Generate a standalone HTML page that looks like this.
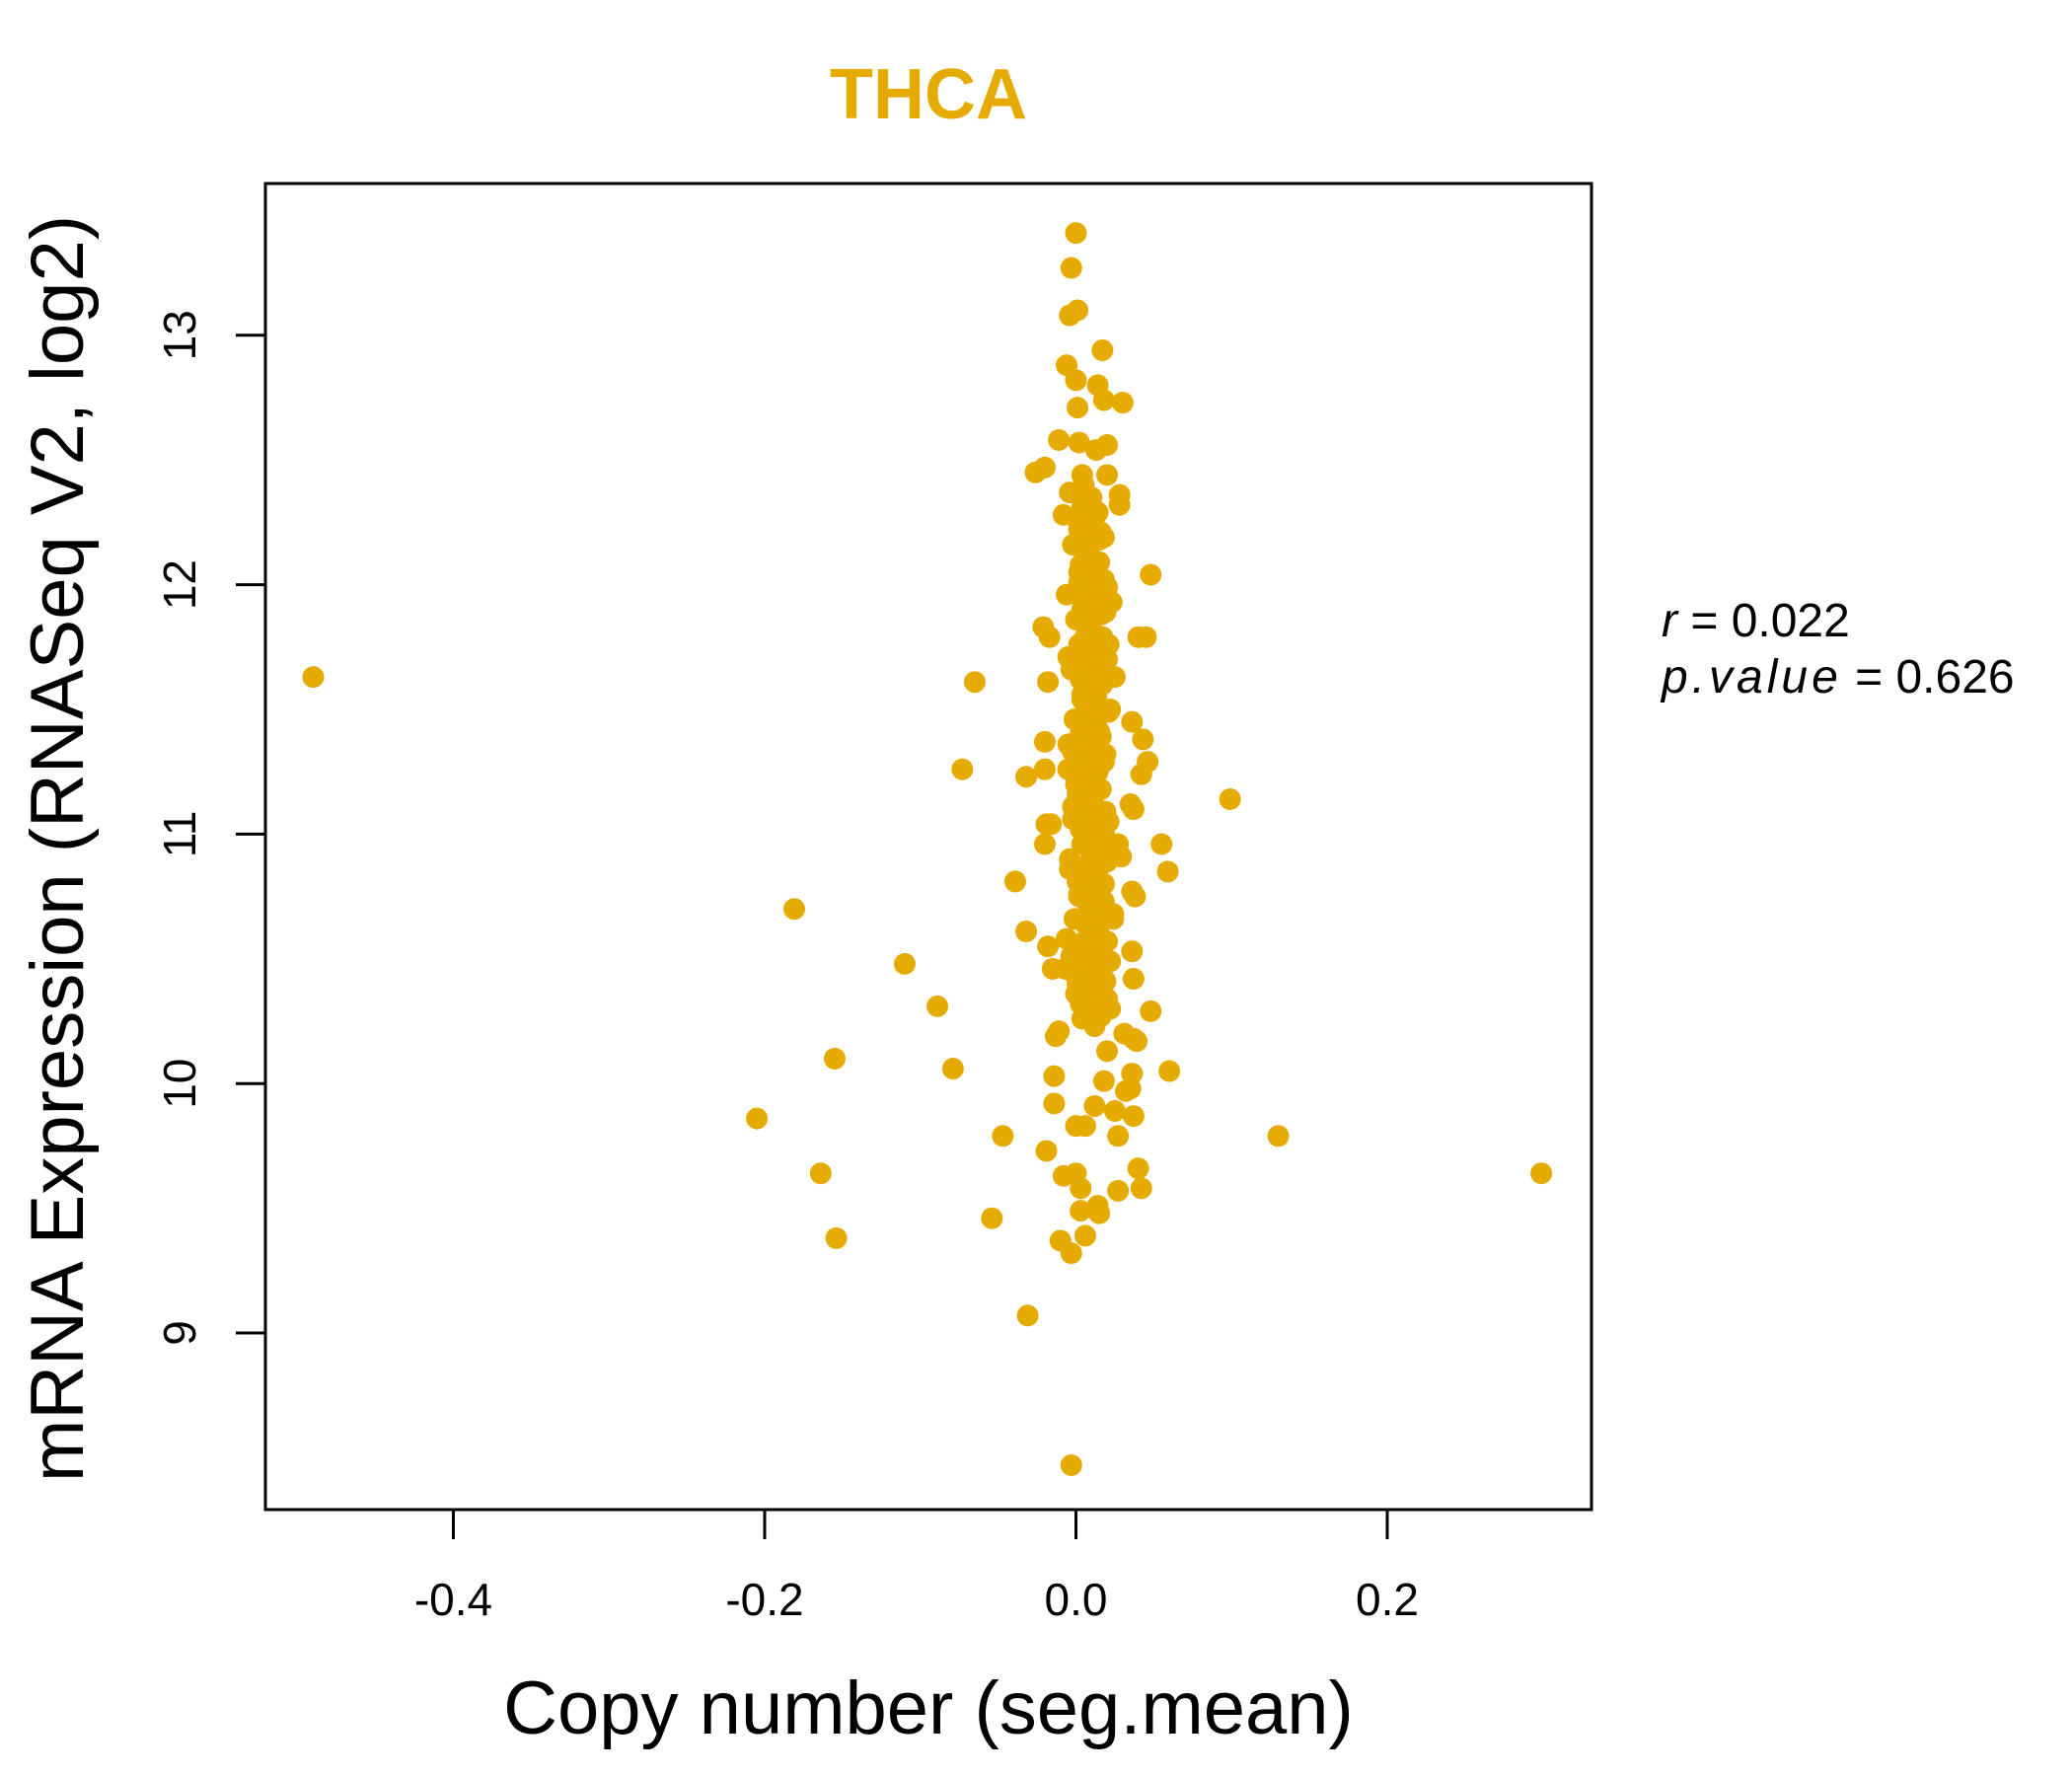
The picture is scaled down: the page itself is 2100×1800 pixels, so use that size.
<!DOCTYPE html>
<html><head><meta charset="utf-8">
<style>html,body{margin:0;padding:0;background:#fff;}svg{display:block;}</style>
</head><body>
<svg id="chart" width="2100" height="1800" viewBox="0 0 2100 1800" xmlns="http://www.w3.org/2000/svg" font-family="'Liberation Sans', sans-serif">
<rect x="0" y="0" width="2100" height="1800" fill="#fff"/>
<text x="941" y="120" font-size="72" font-weight="bold" fill="#E5AB00" text-anchor="middle">THCA</text>
<rect x="269" y="186" width="1344" height="1344" fill="none" stroke="#000" stroke-width="3"/>
<g id="xaxis"></g>
<g id="yaxis"></g>
<g id="points"></g>
<text x="941" y="1757" font-size="76" text-anchor="middle">Copy number (seg.mean)</text>
<text transform="translate(84,860) rotate(-90)" font-size="76" text-anchor="middle">mRNA Expression (RNASeq V2, log2)</text>
<text x="1684" y="645" font-size="48"><tspan font-style="italic">r</tspan> = 0.022</text>
<text x="1684" y="702" font-size="48"><tspan font-style="italic" letter-spacing="4">p.value</tspan> = 0.626</text>
</svg>
<script>
const xTicks = [-0.4, -0.2, 0.0, 0.2];
const xTickLabels = ["-0.4", "-0.2", "0.0", "0.2"];
const yTicks = [9, 10, 11, 12, 13];
const yTickLabels = ["9", "10", "11", "12", "13"];
const copyNumber = [
-0.49,-0.065,-0.073,-0.032,-0.039,-0.032,-0.181,-0.110,-0.089,-0.155,-0.079,-0.205,-0.164,-0.154,-0.054,-0.047,-0.031,-0.003,
0.099,0.130,0.299,0.060,0.059,0.055,0.048,0.048,0.045,0.040,0.042,0.040,0.037,
0.036,0.037,0.036,0.035,0.039,0.037,0.046,0.043,0.042,0.035,0.037,0.038,0.036,0.036,
0.000,-0.003,0.001,-0.004,0.017,-0.006,0.030,0.014,0.000,0.001,0.018,-0.011,0.002,0.020,0.013,
-0.026,-0.020,0.004,0.020,0.028,0.028,-0.021,-0.017,-0.018,-0.020,-0.020,-0.019,-0.016,-0.020,
-0.018,-0.015,-0.013,-0.014,-0.014,-0.011,-0.008,-0.010,-0.003,0.006,0.000,0.003,0.003,0.015,0.014,0.006,0.000,
0.025,0.027,0.027,0.032,0.018,0.020,0.031,0.024,0.020,0.029,0.027,0.012,-0.019,0.016,
0.005,0.010,0.012,0.008,0.003,0.015,0.007,0.011,0.002,0.018,0.009,0.013,0.006,0.004,0.016,0.010,
0.008,0.012,0.005,0.014,0.001,0.020,0.011,0.007,0.003,0.017,0.009,0.013,0.006,0.022,0.010,0.004,
0.012,0.008,0.015,0.002,0.019,0.011,0.006,0.014,0.009,0.000,0.016,0.010,0.005,0.013,0.008,0.021,
0.003,0.011,0.007,0.017,0.012,-0.004,0.009,0.014,0.006,0.018,0.010,0.002,0.013,0.008,0.024,0.005,
0.011,0.015,-0.006,0.009,0.012,0.004,0.019,0.007,0.014,0.001,0.010,0.016,0.003,0.022,0.008,0.012,
-0.008,0.006,0.017,0.011,0.009,0.025,0.004,0.013,-0.002,0.015,0.007,0.020,0.010,0.005,0.018,0.012,
0.002,0.023,0.008,0.014,-0.005,0.011,0.016,0.006,0.021,0.009,0.013,0.003,0.019,0.010,0.007,0.015,
-0.004,0.006,0.014,0.001,0.010,0.018,-0.002,0.008,0.015,0.003,0.012,0.020,-0.006,0.005,0.013,0.000,
0.009,0.017,0.002,0.011,0.019,-0.003,0.007,0.014,0.004,0.012,0.021,-0.001,0.008,0.016,0.003,0.010,
0.018,-0.005,0.006,0.013,0.001,0.011,0.019,-0.002,0.009,0.015,0.004,0.012,0.020,-0.004,0.007,0.014,
0.002,0.010,0.017,-0.001,0.008,0.015,0.003,0.011,0.022,-0.007,0.005,0.013,0.000,0.009,0.016,0.004,
0.012,0.019,-0.003,0.006,0.014,0.001,0.010,0.018,-0.002,0.008,0.015,0.003,0.011,0.017,-0.005,0.007,
0.013,0.002,0.009,0.016,0.004,0.012,0.020,-0.001,0.006,0.014
];
const expression = [
11.63,11.61,11.26,11.23,10.81,10.61,10.70,10.48,10.31,10.10,10.06,9.86,9.64,9.38,9.46,9.79,9.07,8.47,
11.14,9.79,9.64,10.05,10.85,10.96,10.29,12.04,11.79,11.79,9.58,9.66,9.87,
10.53,10.42,10.04,9.98,10.17,10.18,11.29,11.38,11.24,11.12,11.10,10.75,10.77,11.45,
13.41,13.27,13.10,13.08,12.94,12.88,12.73,12.80,12.82,12.71,12.74,12.58,12.57,12.56,12.54,
12.45,12.47,12.44,12.44,12.36,12.32,11.83,11.79,11.61,11.37,11.26,11.04,11.04,10.96,
10.55,10.46,10.19,10.03,9.92,10.21,9.63,9.37,9.32,9.39,9.64,9.58,9.49,9.48,9.51,9.83,9.83,
9.89,9.79,9.57,9.97,10.01,10.13,10.20,10.66,10.57,10.91,10.96,9.91,9.73,10.27,
12.40,12.35,12.30,12.25,12.20,12.18,12.12,12.10,12.05,12.02,11.98,11.95,11.92,11.90,11.88,11.85,
11.82,11.80,11.78,11.75,11.72,11.70,11.68,11.65,11.62,11.60,11.58,11.55,11.52,11.50,11.48,11.45,
11.42,11.40,11.38,11.35,11.32,11.30,11.28,11.25,11.22,11.20,11.18,11.15,11.12,11.10,11.08,11.05,
11.02,11.00,10.98,10.95,10.92,10.90,10.88,10.85,10.82,10.80,10.78,10.75,10.72,10.70,10.68,10.65,
10.62,10.60,10.58,10.55,10.52,10.50,10.48,10.45,10.42,10.40,10.38,10.35,10.32,10.30,10.28,10.25,
12.28,12.15,11.97,11.86,11.74,11.63,11.54,11.43,11.33,11.27,11.17,11.06,10.93,10.83,10.73,10.63,
12.22,11.93,11.67,11.47,11.36,11.21,10.99,10.87,11.76,11.57,11.44,12.08,11.89,11.69,11.53,11.41,
12.37,12.33,12.29,12.26,12.23,12.19,12.16,12.13,12.09,12.06,12.03,11.99,11.96,11.93,11.89,11.86,
11.83,11.79,11.76,11.73,11.69,11.66,11.63,11.59,11.56,11.53,11.49,11.46,11.43,11.39,11.36,11.33,
11.29,11.26,11.23,11.19,11.16,11.13,11.09,11.06,11.03,10.99,10.96,10.93,10.89,10.86,10.83,10.79,
10.76,10.73,10.69,10.66,10.63,10.59,10.56,10.53,10.49,10.46,10.43,10.39,10.36,10.33,10.29,10.26,
10.23,10.41,10.51,10.64,10.71,10.81,10.91,11.01,11.11,11.19,11.31,11.41,11.51,11.61,11.71,11.81,
11.91,12.01,12.11,12.21,12.31,12.27,10.34,10.44,10.57,10.67
];
const px = v => 1090.5 + v * 1577.5;
const py = v => 1351 - (v - 9) * 252.8;
const ns = "http://www.w3.org/2000/svg";
const xa = document.getElementById('xaxis');
xTicks.forEach((t, i) => {
  const l = document.createElementNS(ns, 'line');
  
  
  l.setAttribute('x1', px(t)); l.setAttribute('x2', px(t));
  l.setAttribute('y1', 1530); l.setAttribute('y2', 1560);
  l.setAttribute('stroke', '#000'); l.setAttribute('stroke-width', 3);
  xa.appendChild(l);
  const tx = document.createElementNS(ns, 'text');
  
  
  tx.setAttribute('x', px(t)); tx.setAttribute('y', 1637);
  tx.setAttribute('font-size', 46); tx.setAttribute('text-anchor', 'middle');
  tx.textContent = xTickLabels[i];
  xa.appendChild(tx);
});
const ya = document.getElementById('yaxis');
yTicks.forEach((t, i) => {
  const l = document.createElementNS(ns, 'line');
  
  
  l.setAttribute('x1', 239); l.setAttribute('x2', 269);
  l.setAttribute('y1', py(t)); l.setAttribute('y2', py(t));
  l.setAttribute('stroke', '#000'); l.setAttribute('stroke-width', 3);
  ya.appendChild(l);
  const tx = document.createElementNS(ns, 'text');
  
  
  tx.setAttribute('transform', 'translate(198,' + py(t) + ') rotate(-90)');
  tx.setAttribute('font-size', 46); tx.setAttribute('text-anchor', 'middle');
  tx.textContent = yTickLabels[i];
  ya.appendChild(tx);
});
const pg = document.getElementById('points');
copyNumber.forEach((v, i) => {
  const c = document.createElementNS(ns, 'circle');
  
  
  c.setAttribute('cx', px(v)); c.setAttribute('cy', py(expression[i]));
  c.setAttribute('r', 11); c.setAttribute('fill', '#E5AB00');
  pg.appendChild(c);
});
</script>
</body></html>
